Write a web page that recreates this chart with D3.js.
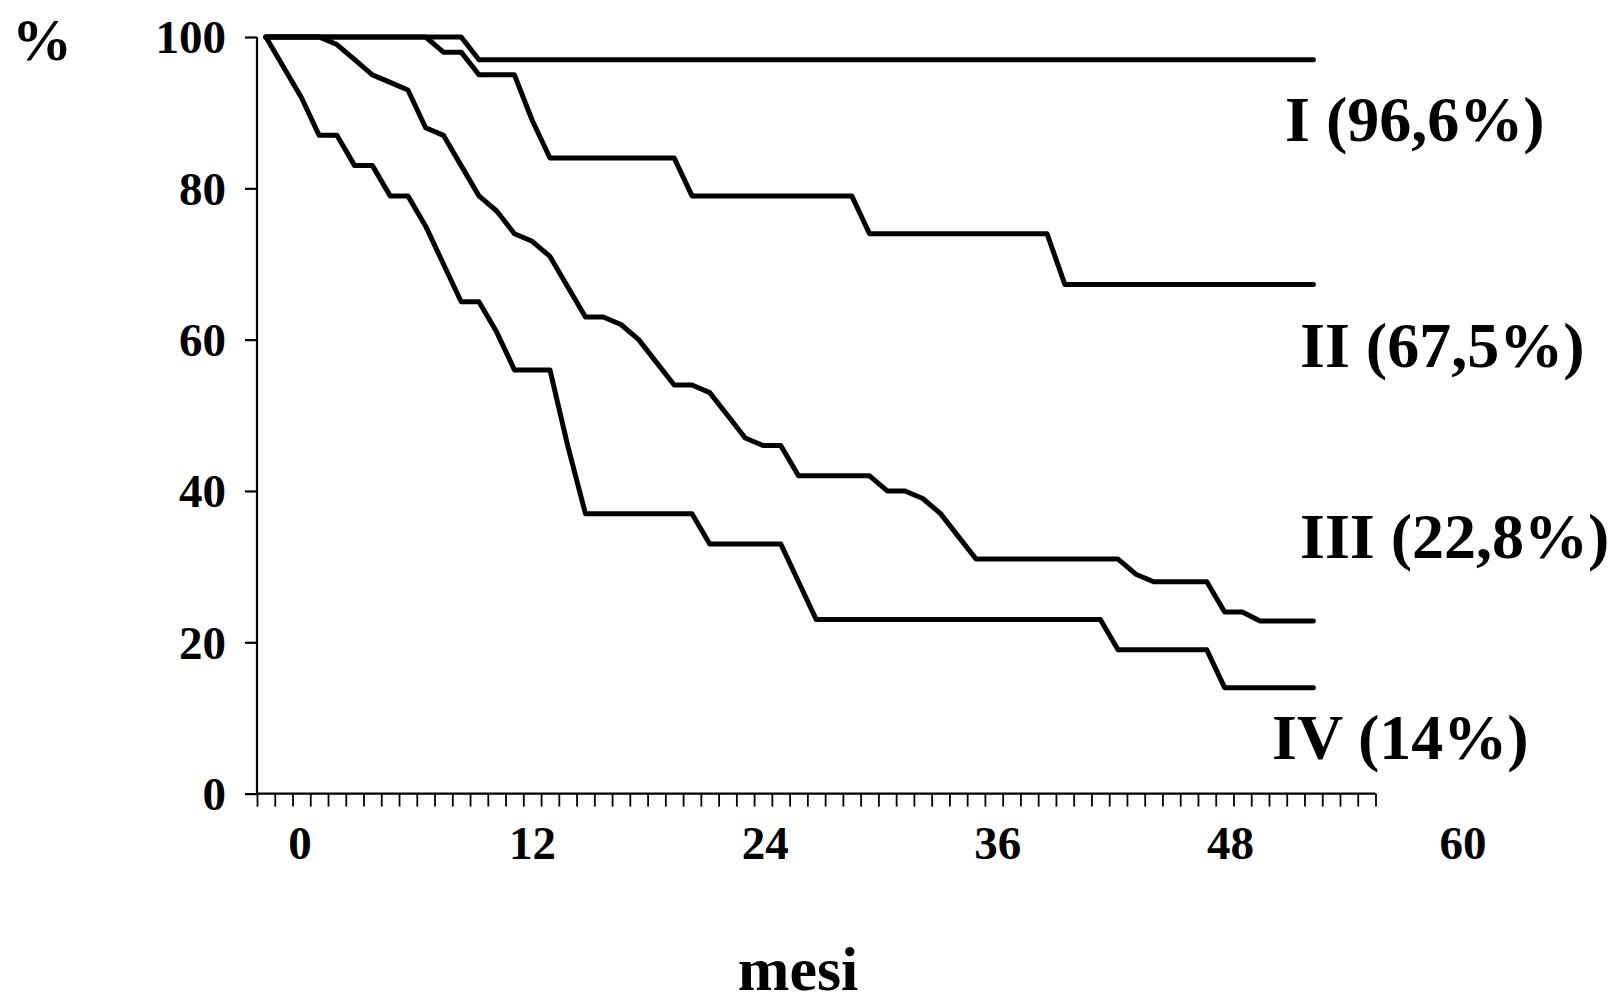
<!DOCTYPE html>
<html>
<head>
<meta charset="utf-8">
<script src="https://cdn.jsdelivr.net/npm/d3@7"></script>
<style>
  body { margin: 0; background: #fff; }
  text { font-family: "Liberation Serif", "Times New Roman", serif; font-weight: bold; fill: #000; }
</style>
</head>
<body>
<script>
// months shown under the x axis
var monthLabels = [0, 12, 24, 36, 48, 60];
// y axis ticks (%)
var yTicks = [0, 20, 40, 60, 80, 100];
// number of category slots on the x axis (60 with data)
var nSlots = 63;

// survival (%) per category
var stageI = [100, 100, 100, 100, 100, 100, 100, 100, 100, 100, 100, 100,
  97, 97, 97, 97, 97, 97, 97, 97, 97, 97, 97, 97,
  97, 97, 97, 97, 97, 97, 97, 97, 97, 97, 97, 97,
  97, 97, 97, 97, 97, 97, 97, 97, 97, 97, 97, 97,
  97, 97, 97, 97, 97, 97, 97, 97, 97, 97, 97, 97];
var stageII = [100, 100, 100, 100, 100, 100, 100, 100, 100, 100, 98, 98,
  95, 95, 95, 89, 84, 84, 84, 84, 84, 84, 84, 84,
  79, 79, 79, 79, 79, 79, 79, 79, 79, 79, 74, 74,
  74, 74, 74, 74, 74, 74, 74, 74, 74, 67.3, 67.3, 67.3,
  67.3, 67.3, 67.3, 67.3, 67.3, 67.3, 67.3, 67.3, 67.3, 67.3, 67.3, 67.3];
var stageIII = [100, 100, 100, 100, 99, 97, 95, 94, 93, 88, 87, 83,
  79, 77, 74, 73, 71, 67, 63, 63, 62, 60, 57, 54,
  54, 53, 50, 47, 46, 46, 42, 42, 42, 42, 42, 40,
  40, 39, 37, 34, 31, 31, 31, 31, 31, 31, 31, 31,
  31, 29, 28, 28, 28, 28, 24, 24, 22.8, 22.8, 22.8, 22.8];
var stageIV = [100, 96, 92, 87, 87, 83, 83, 79, 79, 75, 70, 65,
  65, 61, 56, 56, 56, 46, 37, 37, 37, 37, 37, 37,
  37, 33, 33, 33, 33, 33, 28, 23, 23, 23, 23, 23,
  23, 23, 23, 23, 23, 23, 23, 23, 23, 23, 23, 23,
  19, 19, 19, 19, 19, 19, 14, 14, 14, 14, 14, 14];

var seriesNames = ["I (96,6%)", "II (67,5%)", "III (22,8%)", "IV (14%)"];

var svgWidth = 1612;
var svgHeight = 1007;

var svg = d3.select("body")
  .append("svg")
  .attr("width", svgWidth)
  .attr("height", svgHeight);

svg.append("rect")
  .attr("width", svgWidth)
  .attr("height", svgHeight)
  .attr("fill", "#fff");

// category scale (slot boundaries) and value scale
var xScale = d3.scaleLinear().domain([0, nSlots]).range([257, 1375.5]);
var yScale = d3.scaleLinear().domain([0, 100]).range([793.6, 37]);
// month labels were placed by hand, roughly evenly spaced
var monthScale = d3.scaleLinear().domain([0, 60]).range([300, 1463]);

// y axis
var leftAxis = d3.axisLeft(yScale)
  .tickValues(yTicks)
  .tickSize(12)
  .tickPadding(19)
  .tickFormat(d3.format("d"));

var yAxisG = svg.append("g")
  .attr("transform", `translate(${xScale(0)}, 0)`)
  .call(leftAxis);
yAxisG.select(".domain").attr("stroke-width", 2.2).attr("d", `M0,${yScale(100)}V${yScale(0)}`);
yAxisG.selectAll(".tick line").attr("stroke-width", 2.2);
yAxisG.selectAll(".tick text")
  .style("font-size", "47px")
  .attr("dy", "0.34em");

// x axis: a tick at every slot boundary, no labels
var bottomAxis = d3.axisBottom(xScale)
  .tickValues(d3.range(nSlots + 1))
  .tickSize(13)
  .tickFormat("");

var xAxisG = svg.append("g")
  .attr("transform", `translate(0, ${yScale(0)})`)
  .call(bottomAxis);
xAxisG.select(".domain").attr("stroke-width", 2.2).attr("d", `M${xScale(0)},0H${xScale(nSlots)}`);
xAxisG.selectAll(".tick line").attr("stroke-width", 1.8);

// month labels
svg.append("g")
  .selectAll("text")
  .data(monthLabels)
  .enter()
  .append("text")
    .attr("x", d => monthScale(d))
    .attr("y", 859)
    .attr("text-anchor", "middle")
    .style("font-size", "47px")
    .text(d => d);

// curves
var line = d3.line()
  .x((d, i) => xScale(i + 0.5))
  .y(d => yScale(d));

var allSeries = [stageI, stageII, stageIII, stageIV];

svg.append("g")
  .selectAll("path")
  .data(allSeries)
  .enter()
  .append("path")
    .attr("d", line)
    .attr("fill", "none")
    .attr("stroke", "#000")
    .attr("stroke-width", 5)
    .attr("stroke-linecap", "round")
    .attr("stroke-linejoin", "round");

// stage labels next to the curve ends
var labelPos = [[1285, 141], [1300, 367], [1300, 558], [1272, 759]];

svg.append("g")
  .selectAll("text")
  .data(seriesNames)
  .enter()
  .append("text")
    .attr("x", (d, i) => labelPos[i][0])
    .attr("y", (d, i) => labelPos[i][1])
    .style("font-size", "64px")
    .text(d => d);

// axis titles
svg.append("text")
  .attr("x", 12)
  .attr("y", 60)
  .style("font-size", "60px")
  .text("%");

svg.append("text")
  .attr("x", 798)
  .attr("y", 990)
  .attr("text-anchor", "middle")
  .style("font-size", "62px")
  .text("mesi");
</script>
</body>
</html>
